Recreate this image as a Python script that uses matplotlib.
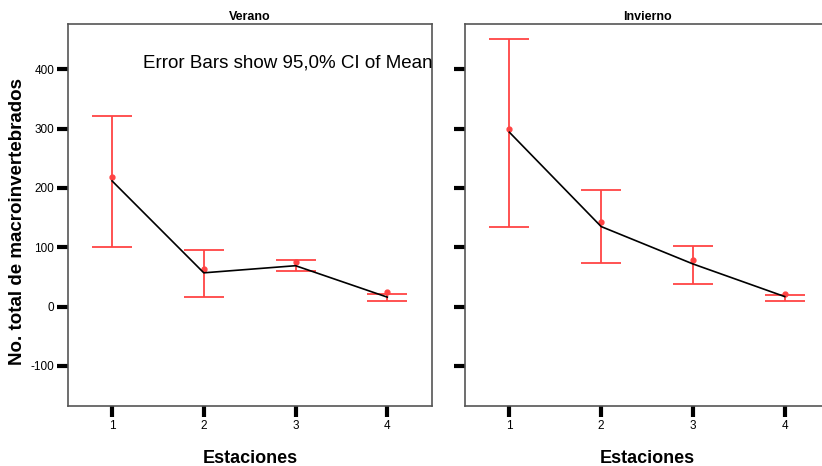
import matplotlib.pyplot as plt

plt.rcParams["font.family"] = ["Liberation Sans", "DejaVu Sans"]
plt.rcParams["axes.unicode_minus"] = False

estaciones = [1, 2, 3, 4]

# Verano
verano_media = [218, 63, 75, 24]
verano_linea = [212, 57, 69, 16]
verano_ci_sup = [322, 95, 78, 22]
verano_ci_inf = [101, 16, 60, 10]

# Invierno
invierno_media = [300, 142, 78, 22]
invierno_linea = [294, 135, 72, 17]
invierno_ci_sup = [451, 197, 103, 19]
invierno_ci_inf = [135, 74, 39, 10]

y_ticks = [-100, 0, 100, 200, 300, 400]

RED = "#ff4444"

fig = plt.figure(figsize=(8.22, 4.66), dpi=100)
ax1 = fig.add_axes([0.0827, 0.1294, 0.4432, 0.8185])
ax2 = fig.add_axes([0.5661, 0.1294, 0.4432, 0.8185])


def draw_panel(ax, title, media, linea, ci_sup, ci_inf, show_labels):
    # CI bars drawn around their own midpoint
    mid = [(hi + lo) / 2 for hi, lo in zip(ci_sup, ci_inf)]
    half = [(hi - lo) / 2 for hi, lo in zip(ci_sup, ci_inf)]
    ax.errorbar(estaciones, mid, yerr=half, fmt="none", ecolor=RED,
                elinewidth=1.3, capsize=14.5, capthick=1.3, zorder=2)
    ax.plot(estaciones, media, "o", color=RED, markersize=3.5, zorder=2)
    ax.plot(estaciones, linea, color="black", linewidth=1.2, zorder=3)

    ax.set_xlim(0.52, 4.49)
    ax.set_ylim(-167, 476)
    ax.set_xticks(estaciones)
    ax.set_yticks(y_ticks)
    ax.tick_params(axis="both", direction="out", length=8, width=3,
                   color="black", labelsize=8.5, pad=2)
    if not show_labels:
        ax.tick_params(axis="y", labelleft=False)
    for s in ax.spines.values():
        s.set_color("#555555")
        s.set_linewidth(1.2)

    ax.set_title(title, fontsize=9, fontweight="bold", pad=3)
    ax.set_xlabel("Estaciones", fontsize=13, fontweight="bold", labelpad=13)


draw_panel(ax1, "Verano", verano_media, verano_linea,
           verano_ci_sup, verano_ci_inf, True)
draw_panel(ax2, "Invierno", invierno_media, invierno_linea,
           invierno_ci_sup, invierno_ci_inf, False)

ax1.set_ylabel("No. total de macroinvertebrados", fontsize=13.5,
               fontweight="bold")
ax1.yaxis.set_label_coords(-0.115, 0.482)

ax1.text(4.49, 410, "Error Bars show 95,0% CI of Mean", ha="right",
         va="center", fontsize=13.5, clip_on=False)

fig.savefig("out.png", dpi=100)
